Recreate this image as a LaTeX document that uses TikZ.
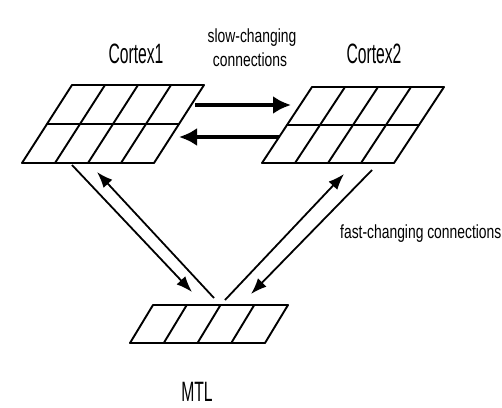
\documentclass[tikz,border=0pt]{standalone}
\usepackage{fontspec}
\setmainfont{Liberation Sans}
\usetikzlibrary{arrows.meta}
\newcommand{\pargrid}[7]{% #1 TLx, #2 top y, #3 width, #4 height, #5 shear, #6 rows, #7 cols
  \foreach \i in {0,...,#7} \draw[gridline] ({#1+\i*#3/#7},#2) -- ({#1+\i*#3/#7-#5},{#2+#4});
  \foreach \j in {0,...,#6} \draw[gridline] ({#1-\j*#5/#6},{#2+\j*#4/#6}) -- ({#1+#3-\j*#5/#6},{#2+\j*#4/#6});
}
\newcommand{\bigtxt}[1]{\scalebox{0.56}[1]{#1}}
\newcommand{\smtxt}[1]{\scalebox{0.73}[1]{#1}}
\begin{document}
\begin{tikzpicture}[x=1pt,y=-1pt,
  gridline/.style={line width=1.9pt, line cap=round, line join=round},
  slowarrow/.style={line width=3.5pt, -{Latex[length=18pt,width=18pt]}},
  fastarrow/.style={line width=1.8pt, -{Latex[length=16pt,width=12pt]}},
  biglabel/.style={inner sep=0pt, anchor=base, font=\fontsize{28}{28}\selectfont},
  smlabel/.style={inner sep=0pt, anchor=base, font=\fontsize{19}{19}\selectfont}]
\useasboundingbox (0,0) rectangle (502,407);
% grids
\pargrid{72}{85}{132}{78}{50}{2}{4}
\pargrid{312}{87}{132}{76}{50}{2}{4}
\pargrid{153}{305}{135}{38}{23}{1}{4}
% labels
\node[biglabel] (c1) at (136,63) {\bigtxt{Cortex1}};
\node[biglabel] (c2) at (374,63) {\bigtxt{Cortex2}};
\node[biglabel] (mtl) at (197,401) {\bigtxt{MTL}};
\node[smlabel] (slow1) at (252,42) {\smtxt{slow-changing}};
\node[smlabel] (slow2) at (250,66) {\smtxt{connections}};
\node[smlabel, anchor=base west] (fast) at (340,238) {\smtxt{fast-changing connections}};
% arrow end points
\coordinate (s1a) at (195,105);
\coordinate (s1b) at (291,105);
\coordinate (s2a) at (279,137);
\coordinate (s2b) at (179,137);
\coordinate (l1a) at (72,165);
\coordinate (l1b) at (192,292);
\coordinate (l2a) at (214,298);
\coordinate (l2b) at (97,172);
\coordinate (r1a) at (225,300);
\coordinate (r1b) at (344,174);
\coordinate (r2a) at (372,170);
\coordinate (r2b) at (251,294);
% arrows
\draw[slowarrow] (s1a) -- (s1b);
\draw[slowarrow] (s2a) -- (s2b);
\draw[fastarrow] (l1a) -- (l1b);
\draw[fastarrow] (l2a) -- (l2b);
\draw[fastarrow] (r1a) -- (r1b);
\draw[fastarrow] (r2a) -- (r2b);
\end{tikzpicture}
\end{document}
